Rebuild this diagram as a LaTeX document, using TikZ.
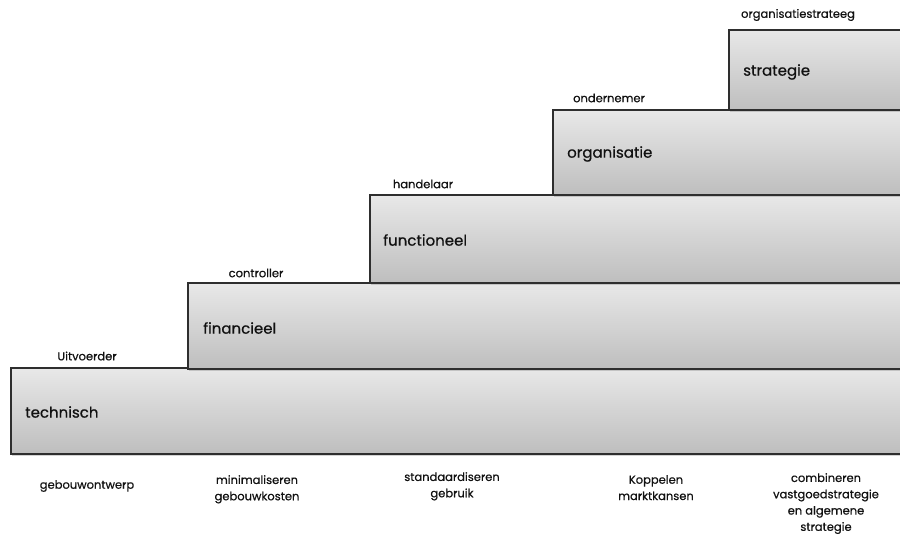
\documentclass[tikz,border=0pt]{standalone}
\usepackage{fontspec}
\setmainfont{Poppins}
\newfontfamily\heavyfont[FakeBold=0.6]{Poppins}
\usetikzlibrary{shadows}
\definecolor{boxtop}{HTML}{E8E8E8}
\definecolor{boxbot}{HTML}{BEBEBE}
\definecolor{edge}{HTML}{2E2E2E}
\definecolor{ink}{HTML}{111111}
\tikzset{
  level/.style={draw=edge, line width=1.2pt, top color=boxtop, bottom color=boxbot,
    drop shadow={shadow xshift=0.8pt, shadow yshift=-1.6pt, opacity=0.35}},
  levellabel/.style={anchor=west, font=\heavyfont\fontsize{15}{17}\selectfont, text=ink, inner sep=0pt},
  rolelabel/.style={font=\heavyfont\fontsize{11.5}{13}\selectfont, text=ink, inner sep=0pt},
  goallabel/.style={font=\heavyfont\fontsize{11.5}{16.3}\selectfont, text=ink, inner sep=0pt, align=center, anchor=north}
}
\begin{document}
\begin{tikzpicture}[x=1pt, y=-1pt]
\useasboundingbox (0,0) rectangle (900,536);
\begin{scope}
\clip (0,0) rectangle (900,536);
% staircase of levels, lowest first
\path[level] (11,368) rectangle (910,454);
\path[level] (188,283) rectangle (910,369);
\path[level] (370,195) rectangle (910,283);
\path[level] (553,110) rectangle (910,195);
\path[level] (729,30) rectangle (910,110);
\end{scope}
\node[levellabel] (technisch) at (25,412) {technisch};
\node[levellabel] (financieel) at (203,328) {financieel};
\node[levellabel] (functioneel) at (383,240) {functioneel};
\node[levellabel] (organisatie) at (567,154) {organisatie};
\node[levellabel] (strategie) at (743,72) {strategie};
% roles above each level
\node[rolelabel] (uitvoerder) at (87,356) {Uitvoerder};
\node[rolelabel] (controller) at (256,273) {controller};
\node[rolelabel] (handelaar) at (423,184) {handelaar};
\node[rolelabel] (ondernemer) at (609,98) {ondernemer};
\node[rolelabel] (strateeg) at (798,15) {organisatiestrateeg};
% goals below the staircase
\node[goallabel] (g1) at (87,480) {gebouwontwerp};
\node[goallabel] (g2) at (257,475) {minimaliseren\\gebouwkosten};
\node[goallabel] (g3) at (452,472) {standaardiseren\\gebruik};
\node[goallabel] (g4) at (656,475) {Koppelen\\marktkansen};
\node[goallabel] (g5) at (826,473) {combineren\\vastgoedstrategie\\en algemene\\strategie};
\end{tikzpicture}
\end{document}
